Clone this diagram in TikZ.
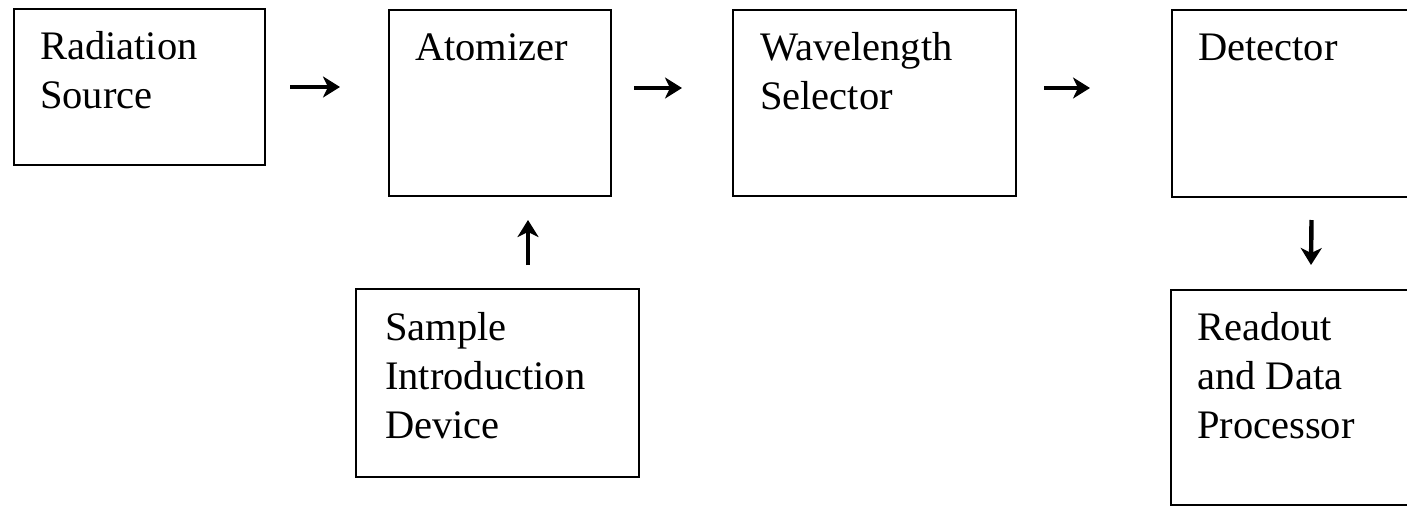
\documentclass[tikz,border=0pt]{standalone}
\usepackage{fontspec}
\setmainfont{Liberation Serif}
\usetikzlibrary{arrows.meta}
\tikzset{
  box/.style={draw=black, line width=2pt, fill=none, inner sep=0pt, anchor=north west},
  lbl/.style={inner sep=0pt, anchor=north west, align=left,
              font=\fontsize{40.5}{49}\selectfont},
  arr/.style={line width=4.4pt, -{Stealth[length=17pt,width=21pt,inset=5pt]}}
}
\begin{document}
\begin{tikzpicture}[x=1pt,y=-1pt]
\useasboundingbox (0,0) rectangle (1407,507);
\clip (0,0) rectangle (1407,507);
% boxes
\node[box, minimum width=251pt, minimum height=156pt] (rs) at (13,8) {};
\node[box, minimum width=222pt, minimum height=186pt] (at) at (388,9) {};
\node[box, minimum width=283pt, minimum height=186pt] (wl) at (732,9) {};
\node[box, minimum width=260pt, minimum height=187pt] (det) at (1171,9) {};
\node[box, minimum width=283pt, minimum height=188pt] (sid) at (355,288) {};
\node[box, minimum width=260pt, minimum height=215pt] (rdp) at (1170,289) {};
% labels
\node[lbl] (rsl) at (40,31) {Radiation\\Source};
\node[lbl] (atl) at (415,33) {Atomizer};
\node[lbl] (wll) at (760,32) {Wavelength\\Selector};
\node[lbl] (detl) at (1198,34) {Detector};
\node[lbl] (sidl) at (385,312) {Sample\\Introduction\\Device};
\node[lbl] (rdpl) at (1197,312) {Readout\\and Data\\Processor};
% connectors
\draw[arr] ([xshift=24pt]rs.east) -- ([xshift=-48pt]rs.east -| at.west);
\draw[arr] ([xshift=22pt,yshift=15pt]at.east) -- ([xshift=-50pt,yshift=15pt]at.east -| wl.west);
\draw[arr] ([xshift=27pt,yshift=15pt]wl.east) -- ([xshift=-81pt,yshift=15pt]wl.east -| det.west);
\draw[arr] ([xshift=30.5pt,yshift=23pt]sid.north) -- ([xshift=28pt,yshift=-23pt]at.south);
\draw[arr] ([xshift=9.5pt,yshift=-22pt]det.south) -- ([xshift=10pt,yshift=24pt]rdp.north);
\end{tikzpicture}
\end{document}
